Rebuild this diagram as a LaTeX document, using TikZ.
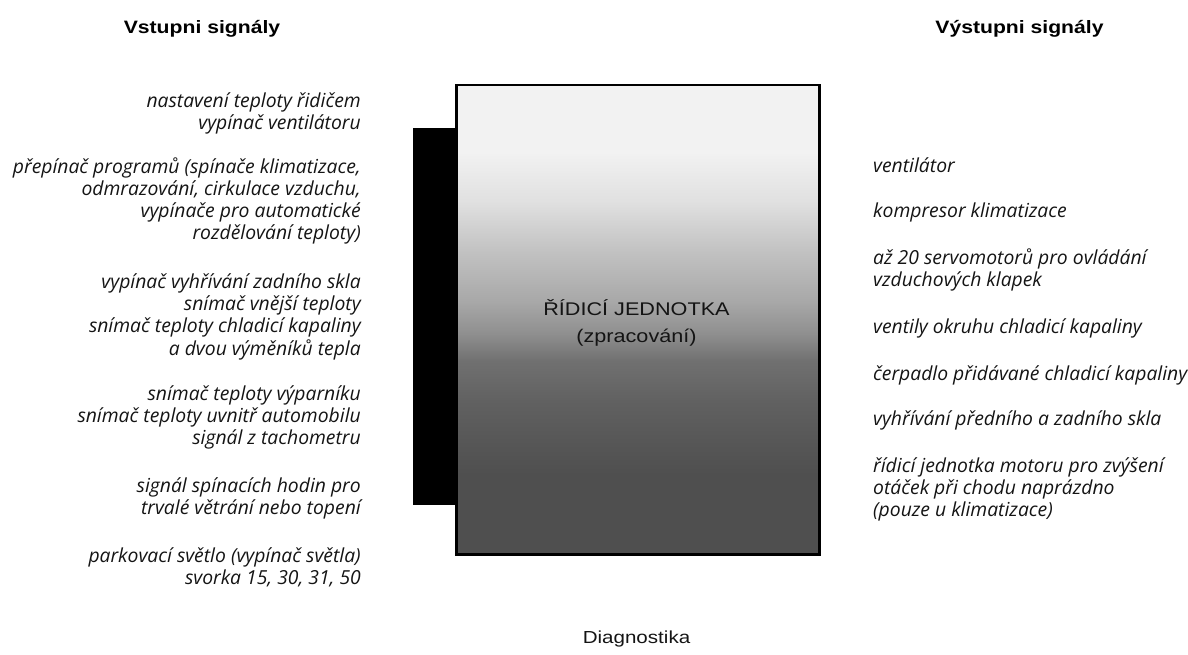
\documentclass[tikz,border=0pt]{standalone}
\usepackage{fontspec}
\newfontfamily\itfont{Open Sans}
\newfontfamily\arialx[FakeStretch=1.18]{Liberation Sans}
\definecolor{g31}{gray}{0.31}
\definecolor{g34}{gray}{0.34}
\definecolor{g38}{gray}{0.38}
\definecolor{g44}{gray}{0.44}
\definecolor{g56}{gray}{0.56}
\definecolor{g66}{gray}{0.66}
\definecolor{g76}{gray}{0.76}
\definecolor{g88}{gray}{0.88}
\definecolor{g95}{gray}{0.95}
\pgfdeclareverticalshading{ecushade}{100bp}{color(0bp)=(g31); color(33.5bp)=(g31); color(37bp)=(g34); color(41.3bp)=(g38); color(45.6bp)=(g44); color(48.5bp)=(g56); color(52bp)=(g66); color(57.3bp)=(g76); color(62.6bp)=(g88); color(68bp)=(g95); color(100bp)=(g95)}
\tikzset{
  title/.style={font=\arialx\bfseries\fontsize{18}{22}\selectfont, inner sep=0pt, anchor=base},
  insig/.style={font=\itfont\itshape\fontsize{19.4}{22.3}\selectfont, align=right, anchor=base east, inner sep=0pt, text=black!92},
  outsig/.style={font=\itfont\itshape\fontsize{19.4}{22.3}\selectfont, align=left, anchor=base west, inner sep=0pt, text=black!92},
  unitlabel/.style={font=\arialx\fontsize{18.4}{27}\selectfont, align=center, inner sep=0pt, anchor=base, text=black!92},
}
\begin{document}
\begin{tikzpicture}[x=1bp,y=-1bp]
\useasboundingbox (0,0) rectangle (1188,655);
% titles
\node[title] (tin) at (202,34) {Vstupni signály};
\node[title] (tout) at (1019.5,34) {Výstupni signály};
% black input bar
\fill[black] (413,128) rectangle (455,505);
\coordinate (bar) at (434,316);
% control unit box
\node[draw=black, line width=2.5bp, shading=ecushade, minimum width=363bp, minimum height=469bp, inner sep=0pt, anchor=north west] (ecu) at (455,84) {};
\node[unitlabel] (ecutext) at (636.5,342) {ŘÍDICÍ JEDNOTKA\\(zpracování)};
% inputs (anchor = baseline of last line)
\node[insig] (i1) at (361,129.3) {nastavení teploty řidičem\\vypínač ventilátoru};
\node[insig] (i2) at (361,239.9) {přepínač programů (spínače klimatizace,\\odmrazování, cirkulace vzduchu,\\vypínače pro automatické\\rozdělování teploty)};
\node[insig] (i3) at (361,355) {vypínač vyhřívání zadního skla\\snímač vnější teploty\\snímač teploty chladicí kapaliny\\a dvou výměníků tepla};
\node[insig] (i4) at (361,444.6) {snímač teploty výparníku\\snímač teploty uvnitř automobilu\\signál z tachometru};
\node[insig] (i5) at (361,514.3) {signál spínacích hodin pro\\trvalé větrání nebo topení};
\node[insig] (i6) at (361,584.3) {parkovací světlo (vypínač světla)\\svorka 15, 30, 31, 50};
% outputs
\node[outsig] (o1) at (873,173) {ventilátor};
\node[outsig] (o2) at (873,218) {kompresor klimatizace};
\node[outsig] (o3) at (873,286.3) {až 20 servomotorů pro ovládání\\vzduchových klapek};
\node[outsig] (o4) at (873,333) {ventily okruhu chladicí kapaliny};
\node[outsig] (o5) at (873,380) {čerpadlo přidávané chladicí kapaliny};
\node[outsig] (o6) at (873,425) {vyhřívání předního a zadního skla};
\node[outsig] (o7) at (873,516.6) {řídicí jednotka motoru pro zvýšení\\otáček při chodu naprázdno\\(pouze u klimatizace)};
% diagnostics
\node[font=\arialx\fontsize{17.5}{21}\selectfont, inner sep=0pt, anchor=base, text=black!92] (diag) at (636.5,643) {Diagnostika};
\end{tikzpicture}
\end{document}
